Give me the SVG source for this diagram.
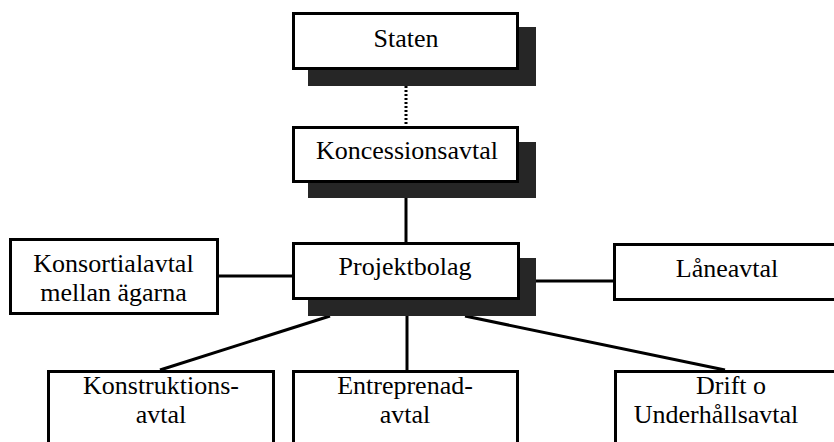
<svg xmlns="http://www.w3.org/2000/svg" width="834" height="442" viewBox="0 0 834 442">
<style>
.box{fill:#fff;stroke:#000;stroke-width:3}
.shadow{fill:#262626}
.t{font-family:'Liberation Serif','Times New Roman','DejaVu Serif',serif;font-size:26px;fill:#000;text-anchor:middle}
.c{stroke:#000;stroke-width:3;fill:none}
</style>
<rect width="834" height="442" fill="#fff"/>
<g id="connectors">
<line class="c" x1="406" y1="86" x2="406" y2="126" stroke-width="2.5" stroke-dasharray="2 2"/>
<line class="c" x1="406" y1="198" x2="406" y2="242"/>
<line class="c" x1="218" y1="276" x2="292" y2="276"/>
<line class="c" x1="536" y1="281" x2="613" y2="281"/>
<line class="c" x1="330" y1="316" x2="160" y2="370"/>
<line class="c" x1="407" y1="316" x2="407" y2="370"/>
<line class="c" x1="465" y1="316" x2="725" y2="370"/>
</g>
<g id="staten">
<rect class="shadow" x="308" y="27" width="228" height="59"/>
<rect class="box" x="293.5" y="13.5" width="224" height="55"/>
<text class="t" x="406" y="47">Staten</text>
</g>
<g id="koncessionsavtal">
<rect class="shadow" x="308" y="142" width="228" height="56"/>
<rect class="box" x="293.5" y="127.5" width="224" height="54"/>
<text class="t" x="407" y="159">Koncessionsavtal</text>
</g>
<g id="projektbolag">
<rect class="shadow" x="308" y="258" width="228" height="58"/>
<rect class="box" x="293.5" y="243.5" width="225" height="55"/>
<text class="t" x="405" y="275">Projektbolag</text>
</g>
<g id="konsortialavtal">
<rect class="box" x="10.5" y="239.5" width="207" height="74"/>
<text class="t" x="113.5" y="272">Konsortialavtal</text>
<text class="t" x="113.5" y="301">mellan ägarna</text>
</g>
<g id="laneavtal">
<rect class="box" x="614.5" y="244.5" width="226" height="55"/>
<text class="t" x="727" y="277">Låneavtal</text>
</g>
<g id="konstruktionsavtal">
<rect class="box" x="48.5" y="371.5" width="225" height="80"/>
<text class="t" x="161" y="394">Konstruktions-</text>
<text class="t" x="161" y="423">avtal</text>
</g>
<g id="entreprenadavtal">
<rect class="box" x="293.5" y="371.5" width="224" height="80"/>
<text class="t" x="405" y="394">Entreprenad-</text>
<text class="t" x="405" y="423">avtal</text>
</g>
<g id="driftavtal">
<rect class="box" x="615.5" y="371.5" width="226" height="80"/>
<text class="t" x="731" y="394">Drift o</text>
<text class="t" x="716" y="423">Underhållsavtal</text>
</g>
</svg>
